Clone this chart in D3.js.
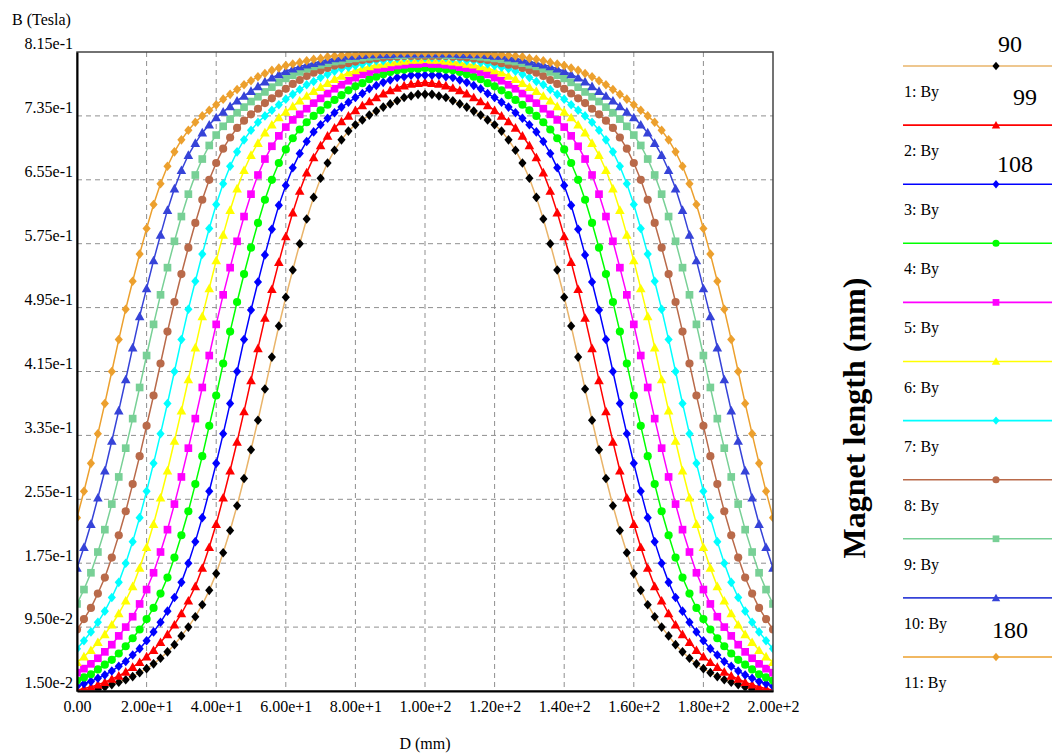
<!DOCTYPE html>
<html>
<head>
<meta charset="utf-8">
<script src="https://cdn.jsdelivr.net/npm/d3@7"></script>
<style>
  body { margin: 0; background: #fff; }
  svg text { font-family: "Liberation Serif", "Times New Roman", serif; fill: #000; }
</style>
</head>
<body>
<svg id="chart" width="1052" height="754"></svg>
<script>
// D (mm), sampled every 2 mm
const distances = d3.range(0, 201, 2)

// B (Tesla) for each magnet length
const by1 = [.012,.013,.015,.017,.020,.023,.026,.029,.033,.038,.043,.049,.056,.064,.073,.084,.095,.108,.123,.141,.162,.188,.216,.247,.281,.317,.354,.393,.433,.472,.508,.542,.575,.606,.633,.657,.676,.692,.705,.716,.724,.730,.736,.741,.746,.750,.754,.758,.760,.762,.762,
  .762,.760,.758,.754,.750,.746,.741,.736,.730,.724,.716,.705,.692,.676,.657,.633,.606,.575,.542,.508,.472,.433,.393,.354,.317,.281,.247,.216,.188,.162,.141,.123,.108,.095,.084,.073,.064,.056,.049,.043,.038,.033,.029,.026,.023,.020,.017,.015,.013,.012]
const by2 = [.016,.018,.020,.023,.026,.030,.034,.039,.045,.051,.058,.066,.076,.086,.098,.112,.128,.146,.169,.195,.224,.257,.291,.327,.365,.404,.444,.482,.518,.552,.584,.614,.641,.664,.683,.698,.710,.720,.728,.735,.742,.748,.753,.758,.763,.767,.770,.773,.775,.776,.777,
  .776,.775,.773,.770,.767,.763,.758,.753,.748,.742,.735,.728,.720,.710,.698,.683,.664,.641,.614,.584,.552,.518,.482,.444,.404,.365,.327,.291,.257,.224,.195,.169,.146,.128,.112,.098,.086,.076,.066,.058,.051,.045,.039,.034,.030,.026,.023,.020,.018,.016]
const by3 = [.021,.024,.027,.031,.035,.040,.046,.052,.060,.068,.078,.089,.101,.115,.132,.151,.175,.202,.232,.265,.300,.337,.375,.415,.455,.492,.527,.561,.593,.623,.648,.670,.688,.703,.715,.724,.732,.739,.746,.752,.758,.763,.769,.773,.777,.780,.783,.784,.786,.786,.786,
  .786,.786,.784,.783,.780,.777,.773,.769,.763,.758,.752,.746,.739,.732,.724,.715,.703,.688,.670,.648,.623,.593,.561,.527,.492,.455,.415,.375,.337,.300,.265,.232,.202,.175,.151,.132,.115,.101,.089,.078,.068,.060,.052,.046,.040,.035,.031,.027,.024,.021]
const by4 = [.028,.032,.036,.042,.048,.054,.062,.071,.081,.092,.105,.119,.137,.157,.182,.210,.240,.274,.309,.347,.385,.425,.465,.502,.537,.570,.601,.630,.655,.676,.693,.707,.718,.727,.735,.742,.749,.755,.761,.767,.772,.776,.781,.784,.787,.790,.792,.793,.794,.794,.795,
  .794,.794,.793,.792,.790,.787,.784,.781,.776,.772,.767,.761,.755,.749,.742,.735,.727,.718,.707,.693,.676,.655,.630,.601,.570,.537,.502,.465,.425,.385,.347,.309,.274,.240,.210,.182,.157,.137,.119,.105,.092,.081,.071,.062,.054,.048,.042,.036,.032,.028]
const by5 = [.038,.043,.049,.056,.064,.073,.084,.095,.108,.124,.142,.163,.189,.217,.249,.283,.319,.356,.395,.435,.474,.511,.545,.578,.609,.637,.661,.681,.697,.710,.721,.730,.737,.744,.751,.757,.763,.769,.774,.779,.783,.787,.790,.793,.795,.796,.798,.799,.800,.800,.801,
  .800,.800,.799,.798,.796,.795,.793,.790,.787,.783,.779,.774,.769,.763,.757,.751,.744,.737,.730,.721,.710,.697,.681,.661,.637,.609,.578,.545,.511,.474,.435,.395,.356,.319,.283,.249,.217,.189,.163,.142,.124,.108,.095,.084,.073,.064,.056,.049,.043,.038]
const by6 = [.051,.058,.066,.076,.086,.098,.112,.128,.146,.169,.195,.224,.257,.291,.328,.366,.405,.445,.484,.519,.554,.586,.617,.644,.667,.686,.701,.714,.724,.733,.740,.747,.754,.760,.766,.771,.776,.781,.785,.789,.792,.795,.797,.799,.800,.802,.803,.804,.805,.805,.806,
  .805,.805,.804,.803,.802,.800,.799,.797,.795,.792,.789,.785,.781,.776,.771,.766,.760,.754,.747,.740,.733,.724,.714,.701,.686,.667,.644,.617,.586,.554,.519,.484,.445,.405,.366,.328,.291,.257,.224,.195,.169,.146,.128,.112,.098,.086,.076,.066,.058,.051]
const by7 = [.068,.078,.089,.101,.115,.132,.151,.175,.202,.232,.265,.300,.337,.375,.415,.455,.493,.528,.562,.594,.624,.650,.672,.690,.705,.717,.727,.735,.742,.749,.756,.762,.768,.774,.778,.783,.787,.791,.794,.796,.798,.800,.802,.804,.804,.806,.807,.808,.808,.808,.808,
  .808,.808,.808,.807,.806,.804,.804,.802,.800,.798,.796,.794,.791,.787,.783,.778,.774,.768,.762,.756,.749,.742,.735,.727,.717,.705,.690,.672,.650,.624,.594,.562,.528,.493,.455,.415,.375,.337,.300,.265,.232,.202,.175,.151,.132,.115,.101,.089,.078,.068]
const by8 = [.092,.105,.119,.137,.157,.182,.210,.240,.274,.309,.347,.385,.425,.465,.502,.537,.570,.601,.630,.655,.676,.694,.708,.720,.729,.737,.744,.751,.757,.763,.769,.775,.780,.785,.789,.792,.795,.798,.799,.801,.803,.805,.806,.807,.808,.809,.809,.810,.810,.810,.810,
  .810,.810,.810,.809,.809,.808,.807,.806,.805,.803,.801,.799,.798,.795,.792,.789,.785,.780,.775,.769,.763,.757,.751,.744,.737,.729,.720,.708,.694,.676,.655,.630,.601,.570,.537,.502,.465,.425,.385,.347,.309,.274,.240,.210,.182,.157,.137,.119,.105,.092]
const by9 = [.124,.142,.163,.189,.217,.249,.283,.319,.356,.395,.435,.474,.511,.545,.578,.609,.637,.661,.681,.698,.711,.722,.731,.739,.746,.753,.759,.765,.771,.777,.782,.786,.790,.794,.797,.799,.801,.803,.804,.806,.807,.808,.809,.810,.811,.811,.811,.811,.812,.812,.812,
  .812,.812,.811,.811,.811,.811,.810,.809,.808,.807,.806,.804,.803,.801,.799,.797,.794,.790,.786,.782,.777,.771,.765,.759,.753,.746,.739,.731,.722,.711,.698,.681,.661,.637,.609,.578,.545,.511,.474,.435,.395,.356,.319,.283,.249,.217,.189,.163,.142,.124]
const by10 = [.169,.195,.224,.257,.291,.328,.366,.405,.445,.484,.519,.554,.586,.617,.644,.667,.686,.701,.714,.724,.733,.740,.747,.754,.760,.766,.772,.778,.783,.787,.791,.794,.797,.799,.801,.803,.805,.807,.808,.810,.810,.811,.812,.812,.812,.812,.813,.813,.813,.813,.813,
  .813,.813,.813,.813,.812,.812,.812,.812,.811,.810,.810,.808,.807,.805,.803,.801,.799,.797,.794,.791,.787,.783,.778,.772,.766,.760,.754,.747,.740,.733,.724,.714,.701,.686,.667,.644,.617,.586,.554,.519,.484,.445,.405,.366,.328,.291,.257,.224,.195,.169]
const by11 = [.232,.265,.300,.337,.375,.415,.455,.493,.528,.562,.594,.624,.650,.672,.690,.705,.717,.727,.735,.742,.749,.756,.762,.768,.774,.779,.784,.788,.792,.795,.798,.800,.802,.804,.806,.807,.809,.810,.811,.812,.812,.813,.813,.813,.814,.814,.814,.814,.814,.814,.814,
  .814,.814,.814,.814,.814,.814,.813,.813,.813,.812,.812,.811,.810,.809,.807,.806,.804,.802,.800,.798,.795,.792,.788,.784,.779,.774,.768,.762,.756,.749,.742,.735,.727,.717,.705,.690,.672,.650,.624,.594,.562,.528,.493,.455,.415,.375,.337,.300,.265,.232]

const seriesNames = ['1: By', '2: By', '3: By', '4: By', '5: By', '6: By', '7: By', '8: By', '9: By', '10: By', '11: By']
const magnetLengths = [90, 99, 108, 117, 126, 135, 144, 153, 162, 171, 180]
const labelledLengths = [90, 99, 108, 180]

const xTicks = [0, 20, 40, 60, 80, 100, 120, 140, 160, 180, 200]
const xTickLabels = ['0.00', '2.00e+1', '4.00e+1', '6.00e+1', '8.00e+1', '1.00e+2', '1.20e+2', '1.40e+2', '1.60e+2', '1.80e+2', '2.00e+2']
const yTicks = [0.015, 0.095, 0.175, 0.255, 0.335, 0.415, 0.495, 0.575, 0.655, 0.735, 0.815]
const yTickLabels = ['1.50e-2', '9.50e-2', '1.75e-1', '2.55e-1', '3.35e-1', '4.15e-1', '4.95e-1', '5.75e-1', '6.55e-1', '7.35e-1', '8.15e-1']

const allSeries = [by1, by2, by3, by4, by5, by6, by7, by8, by9, by10, by11]

// styling
const markerColors = ['#000000', '#ff0000', '#0000ff', '#00ff00', '#ff00ff', '#ffff00', '#00ffff', '#b96a4a', '#78d096', '#3643d8', '#eca02e']
const lineColors = ['#e9b46a', '#ff0000', '#0000ff', '#00ff00', '#ff00ff', '#ffff00', '#00ffff', '#b96a4a', '#78d096', '#3643d8', '#eca02e']
const shapes = ['diamond', 'triangle', 'diamond', 'circle', 'square', 'triangle', 'diamond', 'circle', 'square', 'triangle', 'diamond']

const svg = d3.select('#chart')
svg.append('rect').attr('width', 1052).attr('height', 754).attr('fill', '#fff')

const x = d3.scaleLinear().domain([0, 200]).range([77, 773])
const y = d3.scaleLinear().domain([0.015, 0.815]).range([691, 52])

function markerPath(shape, s) {
    if (shape == 'diamond') return 'M0,' + (-s) + 'L' + (s * 0.85) + ',0L0,' + s + 'L' + (-s * 0.85) + ',0Z'
    if (shape == 'triangle') return 'M0,' + (-s) + 'L' + s + ',' + (s * 0.8) + 'L' + (-s) + ',' + (s * 0.8) + 'Z'
    if (shape == 'square') return 'M' + (-s * 0.8) + ',' + (-s * 0.8) + 'h' + (s * 1.6) + 'v' + (s * 1.6) + 'h' + (-s * 1.6) + 'Z'
    return d3.symbol(d3.symbolCircle, Math.PI * (s * 0.85) * (s * 0.85))()
}

// grid
svg.append('g')
    .selectAll('line')
    .data(xTicks.slice(1, -1))
    .enter()
    .append('line')
    .attr('x1', d => x(d)).attr('x2', d => x(d))
    .attr('y1', y(0.815)).attr('y2', y(0.015))
    .attr('stroke', '#8f8f8f')
    .attr('stroke-dasharray', '5,4')

svg.append('g')
    .selectAll('line')
    .data(yTicks.slice(1, -1))
    .enter()
    .append('line')
    .attr('x1', x(0)).attr('x2', x(200))
    .attr('y1', d => y(d)).attr('y2', d => y(d))
    .attr('stroke', '#8f8f8f')
    .attr('stroke-dasharray', '5,4')

svg.append('clipPath')
    .attr('id', 'plot-clip')
    .append('rect')
    .attr('x', x(0)).attr('y', y(0.815))
    .attr('width', x(200) - x(0)).attr('height', y(0.015) - y(0.815))

const plot = svg.append('g').attr('clip-path', 'url(#plot-clip)')

const line = d3.line()
    .x((d, i) => x(distances[i]))
    .y(d => y(d))

allSeries.forEach((values, k) => {
    const g = plot.append('g').attr('class', 'series-' + (k + 1))
    g.append('path')
        .datum(values)
        .attr('d', line)
        .attr('fill', 'none')
        .attr('stroke', lineColors[k])
        .attr('stroke-width', 1.5)
    g.selectAll('.mark')
        .data(values)
        .enter()
        .append('path')
        .attr('class', 'mark')
        .attr('transform', (d, i) => 'translate(' + x(distances[i]) + ',' + y(d) + ')')
        .attr('d', markerPath(shapes[k], 4.8))
        .attr('fill', markerColors[k])
})

// frame
svg.append('rect')
    .attr('x', x(0)).attr('y', y(0.815))
    .attr('width', x(200) - x(0)).attr('height', y(0.015) - y(0.815))
    .attr('fill', 'none')
    .attr('stroke', '#444')
    .attr('stroke-width', 1.5)

// axes
const xAxis = svg.append('g')
    .attr('transform', 'translate(0,' + y(0.015) + ')')
    .call(d3.axisBottom(x).tickValues(xTicks).tickFormat((d, i) => xTickLabels[i]).tickSize(0).tickPadding(10))
xAxis.select('.domain').attr('stroke', '#000').attr('stroke-width', 2)
xAxis.selectAll('text').attr('font-size', 16).attr('font-family', '"Liberation Serif", serif')

const yAxis = svg.append('g')
    .attr('transform', 'translate(' + x(0) + ',0)')
    .call(d3.axisLeft(y).tickValues(yTicks).tickFormat((d, i) => yTickLabels[i]).tickSize(0).tickPadding(4))
yAxis.select('.domain').attr('stroke', '#000').attr('stroke-width', 2)
yAxis.selectAll('text').attr('font-size', 16).attr('dy', '-0.2em').attr('font-family', '"Liberation Serif", serif')

svg.append('text')
    .attr('x', 12).attr('y', 25)
    .attr('font-size', 16)
    .text('B (Tesla)')

svg.append('text')
    .attr('x', (x(0) + x(200)) / 2).attr('y', 749)
    .attr('text-anchor', 'middle')
    .attr('font-size', 16)
    .text('D (mm)')

svg.append('text')
    .attr('transform', 'translate(865,418) rotate(-90)')
    .attr('text-anchor', 'middle')
    .attr('font-size', 32)
    .attr('font-weight', 'bold')
    .text('Magnet length (mm)')

// legend
const legend = svg.append('g')
const rowY = i => 66 + i * 59.1
seriesNames.forEach((name, i) => {
    legend.append('line')
        .attr('x1', 903).attr('x2', 1052)
        .attr('y1', rowY(i)).attr('y2', rowY(i))
        .attr('stroke', lineColors[i])
        .attr('stroke-width', 1.6)
    legend.append('path')
        .attr('transform', 'translate(996,' + rowY(i) + ')')
        .attr('d', markerPath(shapes[i], 4.2))
        .attr('fill', markerColors[i])
    legend.append('text')
        .attr('x', 904).attr('y', rowY(i) + 31)
        .attr('font-size', 16)
        .text(name)
})

// length labels sitting above some legend rows
const noteOffsets = { 90: [998, -14], 99: [1013, -20], 108: [997, -12], 180: [992, -19] }
labelledLengths.forEach(len => {
    const i = magnetLengths.indexOf(len)
    legend.append('text')
        .attr('x', noteOffsets[len][0]).attr('y', rowY(i) + noteOffsets[len][1])
        .attr('font-size', 24)
        .text(len)
})
</script>
</body>
</html>
